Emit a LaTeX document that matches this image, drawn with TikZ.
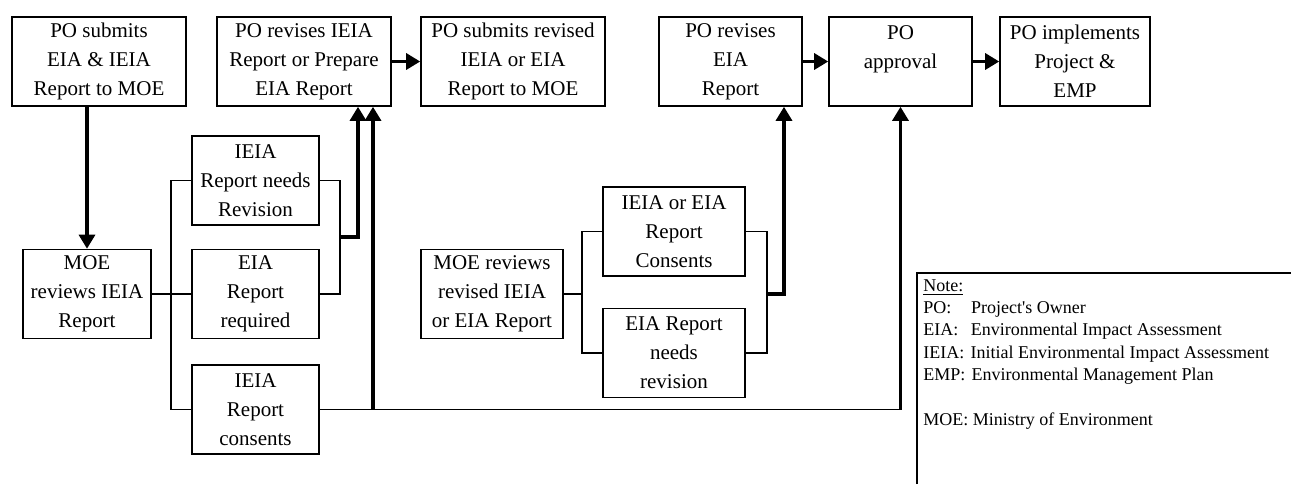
\documentclass[tikz,border=0pt]{standalone}
\usepackage{fontspec}
\setmainfont{Liberation Serif}
\usepackage{tikz}
\usetikzlibrary{arrows.meta,calc,positioning}

\begin{document}
\begin{tikzpicture}[x=0.5pt, y=-0.5pt,
  box/.style={draw, line width=0.8pt, align=center, inner sep=0pt, minimum height=44.5pt, font=\fontsize{10.5}{14.5}\selectfont},
  link/.style={line width=0.8pt},
  flow/.style={line width=1.6pt, -{Triangle[width=8pt,length=7pt]}}]
\useasboundingbox (0,0) rectangle (1291,484);
% Top row
\node[box, minimum width=87pt] (submit) at (99,61.5) {PO submits\\EIA \& IEIA\\Report to MOE};
\node[box, minimum width=87pt] (revise) at (304,61.5) {PO revises IEIA\\Report or Prepare\\EIA Report};
\node[box, minimum width=92pt] (resubmit) at (513,61.5) {PO submits revised\\IEIA or EIA\\Report to MOE};
\node[box, minimum width=71.5pt] (reviseEIA) at (730.5,61.5) {PO revises\\EIA\\Report};
\node[box, minimum width=71.5pt] (approval) at (900.5,61.5) {PO\\approval\\~};
\node[box, minimum width=75pt] (implement) at (1075,61.5) {PO implements\\Project \&\\EMP};
% First review
\node[box, minimum width=64pt] (review) at (87,294) {MOE\\reviews IEIA\\Report};
\node[box, minimum width=63.5pt] (needsrev) at (255.5,180.5) {IEIA\\Report needs\\Revision};
\node[box, minimum width=63.5pt] (required) at (255.5,294) {EIA\\Report\\required};
\node[box, minimum width=63.5pt] (consents) at (255.5,409.5) {IEIA\\Report\\consents};
% Second review
\node[box, minimum width=71pt] (review2) at (492,294) {MOE reviews\\revised IEIA\\or EIA Report};
\node[box, minimum width=71pt] (consents2) at (674,231.5) {IEIA or EIA\\Report\\Consents};
\node[box, minimum width=71pt] (needsrev2) at (674,353) {EIA Report\\needs\\revision};
% Top arrows
\draw[flow] (review.north |- submit.south) -- (review.north);
\draw[flow] (revise) -- (resubmit);
\draw[flow] (reviseEIA) -- (approval);
\draw[flow] (approval) -- (implement);
% Bracket 1
\coordinate (split) at (171,294);
\draw[link] (review.east) -- (split);
\draw[link] (needsrev.west) -| (split) |- (consents.west);
\draw[link] (split) -- (required.west);
\coordinate (join) at (340,237);
\draw[link] (needsrev.east) -| (join) |- (required.east);
\draw[flow] (join) -| ($(revise.south)+(54,0)$);
% Consents line
\coordinate (tapx) at ($(revise.south)+(69,0)$);
\coordinate (tap) at (tapx |- consents.east);
\coordinate (turn) at (approval.south |- consents.east);
\draw[link] (consents.east) -- (turn);
\draw[flow] (tap) -- (tapx);
\draw[flow] (turn) -- (approval.south);
% Bracket 2
\coordinate (split2) at (582,294);
\draw[link] (review2.east) -- (split2);
\draw[link] (consents2.west) -| (split2) |- (needsrev2.west);
\coordinate (join2) at (767,294);
\draw[link] (consents2.east) -| (join2) |- (needsrev2.east);
\draw[flow] (join2) -| ($(reviseEIA.south)+(53.5,0)$);
% Note
\draw[line width=1pt] (917,484) -- (917,273) -- (1291,273);
\node[anchor=north west, align=left, inner sep=0pt, font=\fontsize{9}{11.2}\selectfont] (legend) at (923,279)
  {\underline{Note:}\\
   PO:\hspace{1.1em}Project\textquotesingle s Owner\\
   EIA:\hspace{0.7em}Environmental Impact Assessment\\
   IEIA:\hspace{0.35em}Initial Environmental Impact Assessment\\
   EMP:\hspace{0.35em}Environmental Management Plan\\[11.2pt]
   MOE: Ministry of Environment};
\end{tikzpicture}
\end{document}
